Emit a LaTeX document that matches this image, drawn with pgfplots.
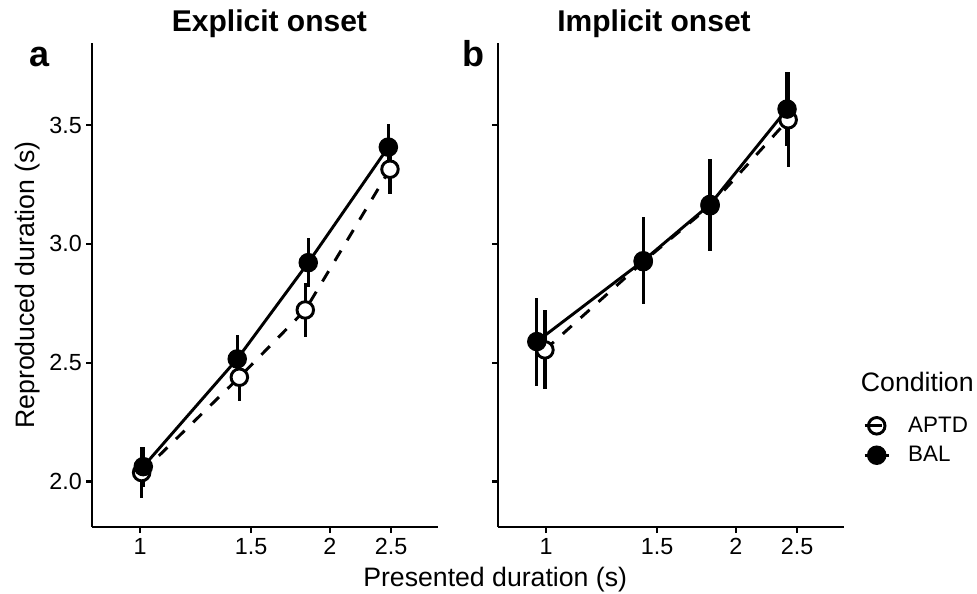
\documentclass[border=0pt]{standalone}
\usepackage{fontspec}
\setmainfont{Liberation Sans}
\usepackage{pgfplots}
\pgfplotsset{compat=1.18}

% 1 px of the reference = 0.75pt
\begin{document}
\begin{tikzpicture}
\useasboundingbox (0,0) rectangle (732.75pt,444.75pt);

% ---- a: explicit onset
\begin{axis}[at={(69pt,49.5pt)}, anchor=south west,
    scale only axis, width=259.5pt, height=363pt,
    xmode=log, xmin=0.8393, xmax=2.967,
    ymin=1.809, ymax=3.845,
    xtick={1,1.5,2,2.5}, xticklabels={1,1.5,2,2.5},
    minor xtick={},
    ytick={2,2.5,3,3.5}, yticklabels={2.0,2.5,3.0,3.5},
    axis x line*=bottom, axis y line*=left,
    axis line style={line width=1.7pt, black, -},
    tick align=outside, major tick length=4.5pt,
    tick style={line width=1.7pt, black},
    every tick label/.append style={font=\fontsize{17.5}{21}\selectfont, inner sep=0pt},
    xticklabel style={yshift=-4pt},
    yticklabel style={xshift=-3pt}]
\addplot[black, line width=2.2pt, dash pattern=on 9pt off 9pt, forget plot]
  coordinates {(1.006,2.038) (1.437,2.439) (1.828,2.722) (2.490,3.314)};
\addplot[black, line width=2.2pt, forget plot]
  coordinates {(1.012,2.063) (1.426,2.516) (1.848,2.921) (2.475,3.407)};
\addplot[only marks, mark=*, mark size=6.2pt,
    mark options={fill=white, draw=black, line width=2.2pt, solid},
    error bars/.cd, y dir=both, y explicit, error mark=none,
    error bar style={line width=2.5pt, solid, black}] coordinates {
  (1.006,2.038) +- (0,0.108)
  (1.437,2.439) +- (0,0.102)
  (1.828,2.722) +- (0,0.112)
  (2.490,3.314) +- (0,0.104)
};
\addplot[only marks, mark=*, mark size=6.2pt,
    mark options={fill=black, draw=black, line width=2.2pt, solid},
    error bars/.cd, y dir=both, y explicit, error mark=none,
    error bar style={line width=2.5pt, solid, black}] coordinates {
  (1.012,2.063) +- (0,0.084)
  (1.426,2.516) +- (0,0.101)
  (1.848,2.921) +- (0,0.103)
  (2.475,3.407) +- (0,0.097)
};
\end{axis}

% ---- b: implicit onset
\begin{axis}[at={(373.5pt,49.5pt)}, anchor=south west,
    scale only axis, width=259.5pt, height=363pt,
    xmode=log, xmin=0.8393, xmax=2.967,
    ymin=1.809, ymax=3.845,
    xtick={1,1.5,2,2.5}, xticklabels={1,1.5,2,2.5},
    minor xtick={},
    ytick={2,2.5,3,3.5}, yticklabels={},
    axis x line*=bottom, axis y line*=left,
    axis line style={line width=1.7pt, black, -},
    tick align=outside, major tick length=4.5pt,
    tick style={line width=1.7pt, black},
    every tick label/.append style={font=\fontsize{17.5}{21}\selectfont, inner sep=0pt},
    xticklabel style={yshift=-4pt},
    legend style={at={(1.0549,0.1787)}, anchor=west, draw=none, fill=none,
      inner sep=0pt, font=\fontsize{16.8}{20}\selectfont,
      column sep=13.5pt, row sep=9pt, nodes={inner sep=0pt}},
    legend cell align=left]
\addplot[black, line width=2.2pt, dash pattern=on 9pt off 9pt, forget plot]
  coordinates {(0.996,2.554) (1.426,2.925) (1.820,3.160) (2.420,3.522)};
\addplot[black, line width=2.2pt, forget plot]
  coordinates {(0.967,2.589) (1.426,2.929) (1.820,3.166) (2.410,3.567)};
\addplot[only marks, mark=*, mark size=6.2pt,
    mark options={fill=white, draw=black, line width=2.2pt, solid},
    error bars/.cd, y dir=both, y explicit, error mark=none,
    error bar style={line width=2.5pt, solid, black},
    /pgfplots/legend image code/.code={
      \draw[mark=*, mark size=6.2pt, mark options={fill=white, draw=black, line width=2.2pt}]
        plot coordinates {(9pt,0pt)};
      \draw[black, line width=2.2pt] (0pt,0pt) -- (13pt,0pt);
      \path (18pt,0pt);}] coordinates {
  (0.996,2.554) +- (0,0.166)
  (1.426,2.925) +- (0,0.180)
  (1.820,3.160) +- (0,0.190)
  (2.420,3.522) +- (0,0.200)
};
\addlegendentry{APTD}
\addplot[only marks, mark=*, mark size=6.2pt,
    mark options={fill=black, draw=black, line width=2.2pt, solid},
    error bars/.cd, y dir=both, y explicit, error mark=none,
    error bar style={line width=2.5pt, solid, black},
    /pgfplots/legend image code/.code={
      \draw[black, line width=2.2pt] (0pt,0pt) -- (18pt,0pt);
      \draw[mark=*, mark size=6.2pt, mark options={fill=black, draw=black, line width=2.2pt}]
        plot coordinates {(9pt,0pt)};}] coordinates {
  (0.967,2.589) +- (0,0.185)
  (1.426,2.929) +- (0,0.183)
  (1.820,3.166) +- (0,0.190)
  (2.410,3.567) +- (0,0.155)
};
\addlegendentry{BAL}
\end{axis}

% titles, panel letters and axis titles
\node[anchor=base, inner sep=0pt, font=\fontsize{22.5}{27}\selectfont\bfseries] at (202.1pt,420.75pt) {Explicit onset};
\node[anchor=base, inner sep=0pt, font=\fontsize{22.5}{27}\selectfont\bfseries] at (490.5pt,420.75pt) {Implicit onset};
\node[anchor=base west, inner sep=0pt, font=\fontsize{27}{32}\selectfont\bfseries] at (21.75pt,394.5pt) {a};
\node[anchor=base west, inner sep=0pt, font=\fontsize{27}{32}\selectfont\bfseries] at (346.5pt,394.5pt) {b};
\node[anchor=base, rotate=90, inner sep=0pt, font=\fontsize{20}{24}\selectfont] at (25.5pt,231pt) {Reproduced duration (s)};
\node[anchor=base west, inner sep=0pt, font=\fontsize{20}{24}\selectfont] at (272.25pt,4.7pt) {Presented duration (s)};
\node[anchor=base west, inner sep=0pt, font=\fontsize{20}{24}\selectfont] at (645.5pt,151pt) {Condition};
\end{tikzpicture}
\end{document}
